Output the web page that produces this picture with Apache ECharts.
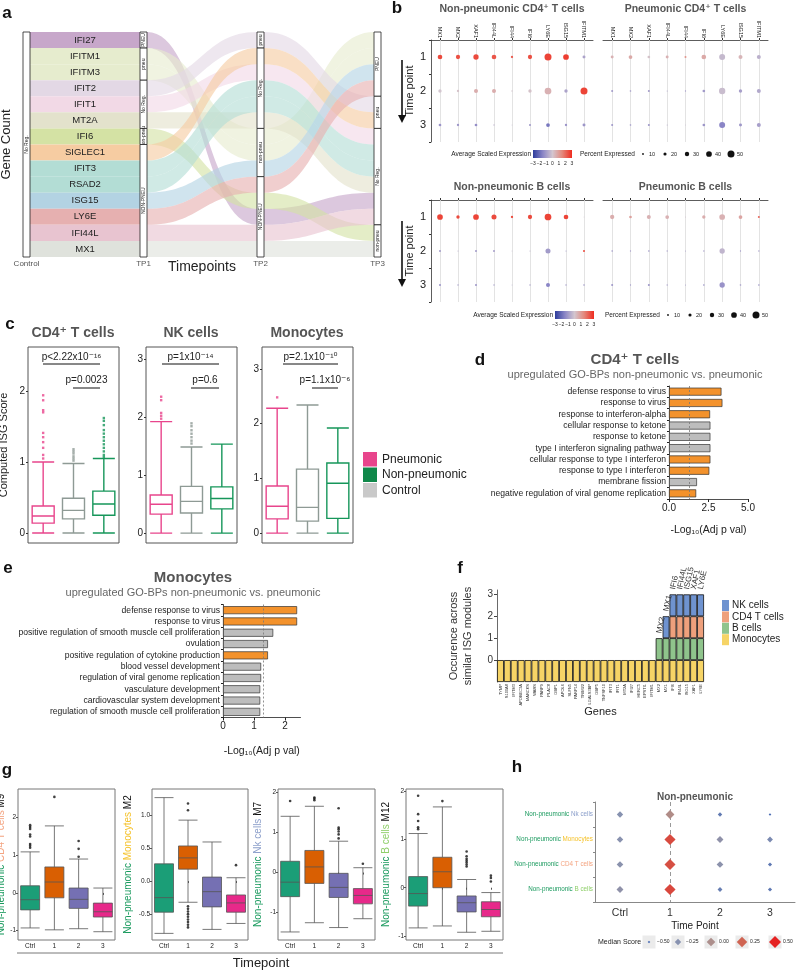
<!DOCTYPE html>
<html>
<head>
<meta charset="utf-8">
<script src="https://cdn.jsdelivr.net/npm/echarts@6.0.0/dist/echarts.min.js"></script>
<style>
  html, body { margin: 0; padding: 0; background: #fff; }
  #main { width: 800px; height: 970px; }
</style>
</head>
<body>
<div id="main"></div>
<script>
// ---------- data: panel a (alluvial) ----------
const aStages = ['Control', 'TP1', 'TP2', 'TP3'];
const aGenes = ['IFI27', 'IFITM1', 'IFITM3', 'IFIT2', 'IFIT1', 'MT2A', 'IFI6', 'SIGLEC1', 'IFIT3', 'RSAD2', 'ISG15', 'LY6E', 'IFI44L', 'MX1'];
const aOrderTP2 = ['IFIT2', 'SIGLEC1', 'IFIT1', 'IFIT3', 'RSAD2', 'MT2A', 'IFITM1', 'IFITM3', 'ISG15', 'LY6E', 'IFI6', 'IFI27', 'IFI44L', 'MX1'];
const aOrderTP3 = ['IFITM1', 'IFITM3', 'ISG15', 'LY6E', 'IFIT2', 'SIGLEC1', 'IFIT1', 'IFIT3', 'RSAD2', 'MT2A', 'IFI27', 'IFI44L', 'IFI6', 'MX1'];
const aNodeLabels = [['No Reg.'], ['PNEU', 'pneu', 'No Reg.', 'non-pneu', 'NON-PNEU'], ['pneu', 'No Reg.', 'non-pneu', 'NON-PNEU'], ['PNEU', 'pneu', 'No Reg.', 'non-pneu']];
const aNodeCounts = [[14], [1, 2, 3, 1, 7], [1, 5, 3, 5], [4, 2, 6, 2]];

// ---------- data: panel b (dot plots) ----------
const bGenes = ['MX1', 'MX2', 'XAF1', 'IFI44L', 'IFI44', 'IFI6', 'LY6E', 'ISG15', 'IFITM1'];
const bTimes = ['1', '2', '3'];
const bExpNonPneuCD4 = [[2.5, 2.4, 2.5, 2.3, 2.2, 2.4, 2.6, 2.7, -0.8], [0, 0.1, 0.6, 0.6, 0, 0.1, 0.5, -0.8, 2.6], [-1.2, -1.1, -1.3, -0.4, -0.5, -1.1, -1.8, -1.2, -1.1]];
const bPctNonPneuCD4 = [[32, 29, 37, 32, 14, 29, 50, 40, 19], [22, 14, 27, 27, 6, 22, 48, 22, 50], [17, 14, 17, 6, 2, 12, 25, 14, 19]];
const bExpPneuCD4 = [[0.5, 0.7, 0.1, 0.5, 1.2, 0.7, -0.3, 0.4, -0.5], [-1, -1, -1, -0.8, -0.9, -1, -0.2, -0.9, -0.7], [-1.1, -1.1, -1.1, -0.6, -0.4, -1.1, -1.5, -1.1, -0.9]];
const bPctPneuCD4 = [[19, 25, 17, 19, 12, 32, 42, 27, 27], [12, 9, 12, 4, 6, 17, 45, 22, 27], [12, 9, 12, 4, 2, 17, 42, 19, 27]];
const bExpNonPneuB = [[2.6, 2.5, 2.6, 2.5, 2.5, 2.5, 2.6, 2.6, 0], [-1, -0.6, -1, -0.9, -0.5, -0.5, -1, -1, 2.5], [-1.2, -1, -1.1, -1, -0.8, -1, -1.5, -1.1, -1]];
const bPctNonPneuB = [[40, 22, 40, 35, 14, 29, 48, 32, 2], [12, 4, 12, 12, 2, 4, 35, 4, 12], [12, 6, 12, 6, 2, 6, 27, 6, 9]];
const bExpPneuB = [[0.6, 0.9, 0.5, 0.5, 0, 0.6, 0.5, 0.8, 2], [-1, -0.9, -1, -0.9, -0.8, -1, -0.4, -1, -1], [-1.1, -1, -1.1, -0.9, -0.9, -1.1, -1.2, -1, -1]];
const bPctPneuB = [[29, 17, 27, 25, 4, 22, 40, 25, 12], [9, 6, 9, 6, 4, 6, 37, 6, 6], [12, 6, 12, 6, 4, 9, 37, 9, 9]];
const bScaleTicks = [-3, -2, -1, 0, 1, 2, 3];
const bPctTicks = [10, 20, 30, 40, 50];

// ---------- data: panel c (ISG score boxplots) ----------
const cGroups = ['Pneumonic', 'Control', 'Non-pneumonic'];
const cCD4Box = [[0, 0.14, 0.24, 0.38, 1.0], [0, 0.2, 0.32, 0.49, 0.98], [0, 0.25, 0.41, 0.59, 1.05]];
const cCD4Out = [[1.94, 1.87, 1.73, 1.7, 1.41, 1.35, 1.28, 1.2, 1.1, 1.05], [1.18, 1.15, 1.12, 1.08, 1.05, 1.02], [1.62, 1.58, 1.52, 1.45, 1.4, 1.35, 1.3, 1.25, 1.2, 1.15, 1.1, 1.07]];
const cNKBox = [[0, 0.33, 0.5, 0.66, 1.93], [0, 0.35, 0.55, 0.81, 1.49], [0, 0.42, 0.6, 0.8, 1.54]];
const cNKOut = [[2.36, 2.3, 2.08, 2.03, 1.98], [1.9, 1.85, 1.78, 1.72, 1.66, 1.6, 1.55], []];
const cMonoBox = [[0, 0.26, 0.49, 0.86, 2.28], [0, 0.22, 0.47, 1.17, 2.34], [0, 0.27, 0.91, 1.28, 1.92]];
const cMonoOut = [[2.48], [], []];
const cPvals = [['p<2.22x10⁻¹⁶', 'p=0.0023'], ['p=1x10⁻¹⁴', 'p=0.6'], ['p=2.1x10⁻¹⁰', 'p=1.1x10⁻⁶']];

// ---------- data: panels d, e (GO enrichment) ----------
const dTerms = ['defense response to virus', 'response to virus', 'response to interferon-alpha', 'cellular response to ketone', 'response to ketone', 'type I interferon signaling pathway', 'cellular response to type I interferon', 'response to type I interferon', 'membrane fission', 'negative regulation of viral genome replication'];
const dValues = [3.32, 3.38, 2.6, 2.62, 2.62, 2.62, 2.62, 2.55, 1.77, 1.72];
const dAntiviral = [1, 1, 1, 0, 0, 0, 1, 1, 0, 1];
const eTerms = ['defense response to virus', 'response to virus', 'positive regulation of smooth muscle cell proliferation', 'ovulation', 'positive regulation of cytokine production', 'blood vessel development', 'regulation of viral genome replication', 'vasculature development', 'cardiovascular system development', 'regulation of smooth muscle cell proliferation'];
const eValues = [2.39, 2.39, 1.62, 1.45, 1.45, 1.23, 1.23, 1.2, 1.2, 1.2];
const eAntiviral = [1, 1, 0, 0, 1, 0, 0, 0, 0, 0];
const sigCutoff = 1.3;

// ---------- data: panel f (module occurrence) ----------
const fGenes = ['TYMP', 'S100A8', 'IFITM3', 'APOBEC3A', 'MARCKS', 'WARS', 'PARP9', 'PLAC8', 'GBP1', 'APOL6', 'SLFN5', 'PARP14', 'TRIM22', 'LGALS3BP', 'GBP5', 'TNFSF10', 'IFIT3', 'IFIT1', 'MT2A', 'IFI27', 'HERC5', 'EPSTI1', 'IFITM1', 'MX2', 'MX1', 'IFI6', 'IFI44L', 'ISG15', 'XAF1', 'LY6E'];
const fMono = [-1, -1, -1, -1, -1, -1, -1, -1, -1, -1, -1, -1, -1, -1, -1, -1, -1, -1, -1, -1, -1, -1, -1, -1, -1, -1, -1, -1, -1, -1];
const fB = ['-', '-', '-', '-', '-', '-', '-', '-', '-', '-', '-', '-', '-', '-', '-', '-', '-', '-', '-', '-', '-', '-', '-', 1, 1, 1, 1, 1, 1, 1];
const fCD4 = ['-', '-', '-', '-', '-', '-', '-', '-', '-', '-', '-', '-', '-', '-', '-', '-', '-', '-', '-', '-', '-', '-', '-', '-', '-', 1, 1, 1, 1, 1];
const fNK = ['-', '-', '-', '-', '-', '-', '-', '-', '-', '-', '-', '-', '-', '-', '-', '-', '-', '-', '-', '-', '-', '-', '-', '-', 1, 1, 1, 1, 1, 1];
const fTicks = [0, 1, 2, 3];

// ---------- data: panel g (module scores over time) ----------
const gTimes = ['Ctrl', '1', '2', '3'];
const gCD4Box = [[-0.93, -0.45, -0.18, 0.19, 1.09], [-0.98, -0.13, 0.29, 0.69, 1.78], [-0.95, -0.41, -0.17, 0.13, 0.9], [-1.03, -0.64, -0.5, -0.27, 0.13]];
const gCD4Out = [[1.2, 1.25, 1.3, 1.5, 1.55, 1.7, 1.75, 1.8], [2.55], [0.96, 1.17, 1.38], []];
const gMonoBox = [[-0.79, -0.47, -0.25, 0.26, 1.26], [-0.32, 0.18, 0.35, 0.53, 0.92], [-0.73, -0.39, -0.16, 0.06, 0.59], [-0.64, -0.47, -0.33, -0.21, 0.05]];
const gMonoOut = [[], [1.07, 1.17, -0.38, -0.42, -0.46, -0.5, -0.54, -0.58, -0.62, -0.66, -0.7], [], [0.24]];
const gNKBox = [[-1.48, -0.6, -0.24, 0.28, 1.4], [-1.25, -0.27, 0.14, 0.55, 1.65], [-1.37, -0.62, -0.37, -0.02, 0.78], [-1.15, -0.78, -0.57, -0.4, 0.12]];
const gNKOut = [[1.78], [1.8, 1.84, 1.87], [0.85, 0.95, 1.02, 1.08, 1.12, 1.6], [0.22]];
const gBBox = [[-0.83, -0.38, -0.12, 0.23, 1.12], [-0.79, 0, 0.33, 0.63, 1.67], [-0.92, -0.5, -0.31, -0.17, 0.17], [-0.9, -0.6, -0.45, -0.29, -0.1]];
const gBOut = [[1.21, 1.25, 1.38, 1.52, 1.9], [1.79], [0.44, 0.48, 0.52, 0.56, 0.6, 0.65, 0.75], [0.13, 0.2, 0.25]];

// ---------- data: panel h (median scores) ----------
const hTimes = ['Ctrl', '1', '2', '3'];
const hCells = ['Nk cells', 'Monocytes', 'CD4 T cells', 'B cells'];
const hScores = [[-0.25, 0.02, -0.4, -0.5], [-0.24, 0.35, -0.2, -0.3], [-0.23, 0.33, -0.22, -0.42], [-0.2, 0.36, -0.38, -0.42]];
const hLegendValues = [-0.5, -0.25, 0, 0.25, 0.5];

// ---------- styles ----------
const FONT = '"Liberation Sans", Arial, "DejaVu Sans", sans-serif';
const geneColors = {
  IFI27: '#c7a7ca', IFITM1: '#e6ecce', IFITM3: '#e6ecce', IFIT2: '#e3d8e5', IFIT1: '#f2d9e6',
  MT2A: '#e3e2cc', IFI6: '#d4e2a4', SIGLEC1: '#f6cca2', IFIT3: '#b3ddd5', RSAD2: '#b3ddd5',
  ISG15: '#b3d3e3', LY6E: '#e6b0b0', IFI44L: '#e8c4d0', MX1: '#dfe2dc'
};
const bPalette = ['#2e3d9c', '#8a85c6', '#d3c6cf', '#e4877a', '#ef2b1f'];
const cColors = ['#e8458c', '#8e9a95', '#16965a'];
const cFill = ['#e8458c', '#10884a', '#c9c9c9'];
const ORANGE = '#f3922c', GREYBAR = '#bdbdbd';
const gColors = ['#1b9e77', '#d95f02', '#7570b3', '#e7298a'];
const hPalette = ['#4a6cb3', '#8792b0', '#ad8f8c', '#cf6452', '#e52222'];
const cellColors = { 'Nk cells': '#8da0cb', 'Monocytes': '#f5c22b', 'CD4 T cells': '#f4a582', 'B cells': '#8fcf6a' };
const NONPNEU = '#1a9a5e';

const bColor = v => echarts.color.lerp((Math.max(-3, Math.min(3, v)) + 3) / 6, bPalette);
const bSize = p => 0.5 + p * 0.13;
const hColor = v => echarts.color.lerp(Math.max(0, Math.min(1, v + 0.5)), hPalette);
const hSize = v => 12 * Math.sqrt(Math.max(v + 0.55, 0.01) / 1.05);

// ---------- builders ----------
const grids = [], xAxes = [], yAxes = [], series = [], graphics = [];
function addGrid(rect, xAxis, yAxis) {
  const gi = grids.length;
  grids.push(Object.assign({ outerBoundsMode: 'none', containLabel: false }, rect));
  xAxes.push(Object.assign({ gridIndex: gi }, xAxis));
  yAxes.push(Object.assign({ gridIndex: gi }, yAxis));
  return gi;
}
function addSeries(s) {
  series.push(Object.assign({ animation: false }, s));
  return series.length - 1;
}
function T(x, y, text, size, o) {
  o = o || {};
  const align = o.align || 'center', va = o.va || 'middle';
  return {
    type: 'text', x: x, y: y, rotation: o.rot || 0, silent: true, z: 100,
    style: {
      text: text, fontSize: size, fontFamily: FONT, fontWeight: o.weight || 'normal', fill: o.color || '#222',
      align: align, verticalAlign: va, textAlign: align, textVerticalAlign: va
    }
  };
}
function L(x1, y1, x2, y2, color, w) {
  return { type: 'line', silent: true, z: 100, shape: { x1: x1, y1: y1, x2: x2, y2: y2 }, style: { stroke: color || '#222', lineWidth: w || 1 } };
}
function R(x, y, w, h, fill) {
  return { type: 'rect', silent: true, z: 99, shape: { x: x, y: y, width: w, height: h }, style: { fill: fill } };
}
function diamond(cx, cy, s, color) {
  return { type: 'polygon', silent: true, z: 101, shape: { points: [[cx, cy - s / 2], [cx + s / 2, cy], [cx, cy + s / 2], [cx - s / 2, cy]] }, style: { fill: color } };
}
const hide = { axisLine: { show: false }, axisTick: { show: false }, axisLabel: { show: false }, splitLine: { show: false } };

// ---------- panel a ----------
const aOrder = [aGenes, aGenes, aOrderTP2, aOrderTP3];
const gA = addGrid({ left: 26.5, top: 32, width: 351, height: 225 },
  {
    type: 'value', min: 0, max: 3, interval: 1, splitLine: { show: false }, axisLine: { show: false },
    axisTick: { show: true, length: 3, lineStyle: { color: '#555' } },
    axisLabel: { formatter: v => aStages[v] || '', fontSize: 8, color: '#555', margin: 3 },
    name: 'Timepoints', nameLocation: 'middle', nameGap: 3, nameMoveOverlap: false, nameTextStyle: { fontSize: 14, color: '#222' }
  },
  Object.assign({ type: 'value', min: 0, max: 14, inverse: true, name: 'Gene Count', nameLocation: 'middle', nameGap: 14, nameRotate: 90, nameTextStyle: { fontSize: 13, color: '#222' } }, hide)
);
function renderFlow(params, api) {
  const gene = aGenes[api.value(1)];
  const half = 3.5;
  const children = [];
  for (let s = 0; s < aStages.length - 1; s++) {
    const r0 = aOrder[s].indexOf(gene), r1 = aOrder[s + 1].indexOf(gene);
    const a0 = api.coord([s, r0]), a1 = api.coord([s, r0 + 1]);
    const b0 = api.coord([s + 1, r1]), b1 = api.coord([s + 1, r1 + 1]);
    const x0 = a0[0] + half, x1 = b0[0] - half, xm = (x0 + x1) / 2;
    const d = 'M' + x0 + ',' + a0[1] + ' C' + xm + ',' + a0[1] + ' ' + xm + ',' + b0[1] + ' ' + x1 + ',' + b0[1] +
      ' L' + x1 + ',' + b1[1] + ' C' + xm + ',' + b1[1] + ' ' + xm + ',' + a1[1] + ' ' + x0 + ',' + a1[1] + ' Z';
    children.push({ type: 'path', shape: { pathData: d }, style: { fill: geneColors[gene], opacity: s === 0 ? 1 : 0.62 } });
  }
  const lp = api.coord([0.5, aOrder[0].indexOf(gene) + 0.5]);
  children.push({ type: 'text', x: lp[0], y: lp[1], style: { text: gene, fontSize: 9.5, fontFamily: FONT, fill: '#222', align: 'center', verticalAlign: 'middle' } });
  return { type: 'group', children: children };
}
addSeries({ type: 'custom', xAxisIndex: gA, yAxisIndex: gA, silent: true, z: 2, renderItem: renderFlow, data: aGenes.map((g, i) => [0, i]) });
const aNodeData = [];
aNodeCounts.forEach((counts, s) => {
  let acc = 0;
  counts.forEach((c, k) => { aNodeData.push([s, acc, acc + c, k]); acc += c; });
});
function renderNode(params, api) {
  const s = api.value(0), a = api.value(1), b = api.value(2), k = api.value(3);
  const p0 = api.coord([s, a]), p1 = api.coord([s, b]);
  return {
    type: 'group', children: [
      { type: 'rect', shape: { x: p0[0] - 3.5, y: p0[1], width: 7, height: p1[1] - p0[1] }, style: { fill: '#fff', stroke: '#222', lineWidth: 0.8 } },
      { type: 'text', x: p0[0], y: (p0[1] + p1[1]) / 2, rotation: Math.PI / 2, style: { text: aNodeLabels[s][k], fontSize: 5, fontFamily: FONT, fill: '#222', align: 'center', verticalAlign: 'middle' } }
    ]
  };
}
addSeries({ type: 'custom', xAxisIndex: gA, yAxisIndex: gA, silent: true, z: 3, renderItem: renderNode, data: aNodeData });

// ---------- panel b ----------
const bLayout = [
  { title: 'Non-pneumonic CD4⁺ T cells', exp: bExpNonPneuCD4, pct: bPctNonPneuCD4, left: 431, top: 40, width: 162, first: true },
  { title: 'Pneumonic CD4⁺ T cells', exp: bExpPneuCD4, pct: bPctPneuCD4, left: 603, top: 40, width: 165, first: false },
  { title: 'Non-pneumonic B cells', exp: bExpNonPneuB, pct: bPctNonPneuB, left: 431, top: 200, width: 162, first: true },
  { title: 'Pneumonic B cells', exp: bExpPneuB, pct: bPctPneuB, left: 603, top: 200, width: 165, first: false }
];
bLayout.forEach(p => {
  const upper = p.top === 40;
  const gi = addGrid({ left: p.left, top: p.top, width: p.width, height: 102 },
    {
      type: 'category', data: bGenes, position: 'top',
      axisLine: { show: true, lineStyle: { color: '#333', width: 0.8 } },
      axisTick: { show: true, alignWithLabel: true, length: 2, lineStyle: { color: '#333' } },
      axisLabel: { show: upper, rotate: 90, fontSize: 5.5, margin: 2, color: '#222', interval: 0 }, splitLine: { show: false }
    },
    {
      type: 'category', data: bTimes, inverse: true,
      axisLine: { show: p.first, lineStyle: { color: '#333', width: 0.8 } },
      axisTick: { show: p.first, length: 2, lineStyle: { color: '#333' } },
      axisLabel: { show: p.first, fontSize: 11, color: '#222', margin: 5 }, splitLine: { show: false },
      name: p.first ? 'Time point' : '', nameLocation: 'middle', nameRotate: 90, nameGap: 16, nameTextStyle: { fontSize: 11, color: '#222' }
    });
  const data = [];
  p.exp.forEach((row, r) => row.forEach((v, g) => data.push([g, r, v, p.pct[r][g]])));
  addSeries({
    type: 'scatter', xAxisIndex: gi, yAxisIndex: gi, silent: true, z: 3, data: data,
    symbolSize: v => bSize(v[3]),
    itemStyle: { color: prm => bColor(prm.value[2]), opacity: 1 },
    markLine: {
      silent: true, symbol: ['none', 'none'], z: 1, label: { show: false },
      lineStyle: { color: '#dcdcdc', width: 0.8, type: 'solid' },
      data: bGenes.map(g => ({ xAxis: g }))
    }
  });
  graphics.push(T(p.left + p.width / 2, upper ? 9 : 187, p.title, 10.5, { weight: 'bold', color: '#555' }));
});
// time arrows
[[60, 116], [221, 280]].forEach(([y0, y1]) => {
  graphics.push(L(402, y0, 402, y1, '#111', 1.6));
  graphics.push({ type: 'polygon', silent: true, z: 100, shape: { points: [[398, y1 - 1], [406, y1 - 1], [402, y1 + 7]] }, style: { fill: '#111' } });
});
// b legends
[[154, 0, 0], [315, 22, 25]].forEach(([y, dx, dp]) => {
  graphics.push(T(531 + dx, y, 'Average Scaled Expression', 6.5, { align: 'right' }));
  graphics.push({
    type: 'rect', silent: true, z: 99, shape: { x: 533 + dx, y: y - 4, width: 39, height: 8 },
    style: { fill: { type: 'linear', x: 0, y: 0, x2: 1, y2: 0, colorStops: bPalette.map((c, i) => ({ offset: i / (bPalette.length - 1), color: c })) } }
  });
  bScaleTicks.forEach(t => graphics.push(T(533 + dx + (t + 3) / 6 * 39, y + 10, String(t).replace('-', '−'), 5)));
  graphics.push(T(580 + dp, y, 'Percent Expressed', 6.5, { align: 'left' }));
  bPctTicks.forEach((t, i) => {
    const cx = 643 + dp + i * 22;
    graphics.push({ type: 'circle', silent: true, z: 100, shape: { cx: cx, cy: y, r: bSize(t) / 2 }, style: { fill: '#111' } });
    graphics.push(T(cx + 6, y, String(t), 5.5, { align: 'left' }));
  });
});

// ---------- panel c ----------
const cLayout = [
  { left: 28, title: 'CD4⁺ T cells', min: -0.14, max: 2.62, ticks: [0, 1, 2], box: cCD4Box, out: cCD4Out, p: cPvals[0], l1: [43, 100], l2: [73, 100] },
  { left: 146, title: 'NK cells', min: -0.17, max: 3.22, ticks: [0, 1, 2, 3], box: cNKBox, out: cNKOut, p: cPvals[1], l1: [162, 219], l2: [191, 219] },
  { left: 262, title: 'Monocytes', min: -0.18, max: 3.4, ticks: [0, 1, 2, 3], box: cMonoBox, out: cMonoOut, p: cPvals[2], l1: [283, 338], l2: [312, 338] }
];
cLayout.forEach((c, ci) => {
  const gi = addGrid({ left: c.left, top: 347, width: 91, height: 196, show: true, borderColor: '#555', borderWidth: 1, backgroundColor: 'transparent' },
    Object.assign({ type: 'category', data: cGroups }, hide),
    {
      type: 'value', min: c.min, max: c.max, splitLine: { show: false }, axisLine: { show: false },
      axisTick: { show: true, length: 2, customValues: c.ticks, lineStyle: { color: '#333' } },
      axisLabel: { customValues: c.ticks, fontSize: 10, color: '#222', margin: 3 },
      name: ci === 0 ? 'Computed ISG Score' : '', nameLocation: 'middle', nameRotate: 90, nameGap: 19, nameTextStyle: { fontSize: 11, color: '#222' }
    });
  addSeries({
    type: 'boxplot', xAxisIndex: gi, yAxisIndex: gi, silent: true, boxWidth: [22, 22],
    data: c.box.map((b, i) => ({ value: b, itemStyle: { color: '#fff', borderColor: cColors[i], borderWidth: 1.4 } }))
  });
  const outs = [];
  c.out.forEach((arr, i) => arr.forEach(v => outs.push({ value: [i, v], itemStyle: { color: cColors[i] } })));
  addSeries({ type: 'scatter', xAxisIndex: gi, yAxisIndex: gi, silent: true, symbol: 'rect', symbolSize: 2.4, data: outs });
  graphics.push(T(c.left + 45, 333, c.title, 14, { weight: 'bold', color: '#555' }));
  graphics.push(T((c.l1[0] + c.l1[1]) / 2, 357, c.p[0], 10));
  graphics.push(L(c.l1[0], 364, c.l1[1], 364, '#111', 1));
  graphics.push(T((c.l2[0] + c.l2[1]) / 2, 380.5, c.p[1], 10));
  graphics.push(L(c.l2[0], 388, c.l2[1], 388, '#111', 1));
});
['Pneumonic', 'Non-pneumonic', 'Control'].forEach((name, i) => {
  graphics.push(R(363, 452 + i * 15.5, 14, 14.5, cFill[i]));
  graphics.push(T(382, 459.5 + i * 15.5, name, 12, { align: 'left' }));
});

// ---------- panels d and e ----------
function goBars(left, top, xmax, pxPerUnit, interval, fmt, terms, values, flags, nameGap) {
  const gi = addGrid({ left: left, top: top, width: xmax * pxPerUnit, height: 113 },
    {
      type: 'value', min: 0, max: xmax, interval: interval, splitLine: { show: false },
      axisLine: { show: true, lineStyle: { color: '#222', width: 0.8 } }, axisTick: { show: true, length: 3, lineStyle: { color: '#222' } },
      axisLabel: { formatter: fmt, fontSize: 10, color: '#222', margin: 4, showMaxLabel: xmax % interval === 0 },
      name: '-Log₁₀(Adj p val)', nameLocation: 'middle', nameGap: nameGap, nameTextStyle: { fontSize: 10.5, color: '#222' }
    },
    {
      type: 'category', data: terms, inverse: true,
      axisLine: { show: true, lineStyle: { color: '#222', width: 0.8 } }, axisTick: { show: true, length: 2, lineStyle: { color: '#222' } },
      axisLabel: { fontSize: 8.6, color: '#222', margin: 3, interval: 0 }, splitLine: { show: false }
    });
  addSeries({
    type: 'bar', xAxisIndex: gi, yAxisIndex: gi, silent: true, barWidth: 8,
    itemStyle: { borderColor: '#333', borderWidth: 0.7 },
    data: values.map((v, i) => ({ value: v, itemStyle: { color: flags[i] ? ORANGE : GREYBAR } })),
    markLine: { silent: true, symbol: ['none', 'none'], label: { show: false }, lineStyle: { type: [2, 2], color: '#777', width: 0.8 }, data: [{ xAxis: sigCutoff }] }
  });
}
goBars(669, 386, 5, 15.8, 2.5, v => v.toFixed(1), dTerms, dValues, dAntiviral, 26);
graphics.push(T(635, 360, 'CD4⁺ T cells', 15, { weight: 'bold', color: '#555' }));
graphics.push(T(635, 374.5, 'upregulated GO-BPs non-pneumonic vs. pneumonic', 11, { color: '#666' }));
goBars(223, 604.5, 2.5, 31, 1, v => String(v), eTerms, eValues, eAntiviral, 28);
graphics.push(T(193, 578, 'Monocytes', 15, { weight: 'bold', color: '#555' }));
graphics.push(T(193, 592.5, 'upregulated GO-BPs non-pneumonic vs. pneumonic', 11, { color: '#666' }));

// ---------- panel f ----------
const gF = addGrid({ left: 497, top: 590, width: 207, height: 92 },
  {
    type: 'category', data: fGenes, axisLine: { show: false }, axisTick: { show: false }, splitLine: { show: false },
    axisLabel: { rotate: 90, fontSize: 4, margin: 2, color: '#333', interval: 0 },
    name: 'Genes', nameLocation: 'middle', nameGap: 24, nameMoveOverlap: false, nameTextStyle: { fontSize: 11, color: '#222' }
  },
  {
    type: 'value', min: -1, max: 3.2, splitLine: { show: false },
    axisLine: { show: true, lineStyle: { color: '#444', width: 0.8 } },
    axisTick: { show: true, length: 3, customValues: fTicks, lineStyle: { color: '#444' } },
    axisLabel: { customValues: fTicks, fontSize: 10, color: '#333', margin: 4 },
    name: 'Occurence across\nsimilar ISG modules', nameLocation: 'middle', nameRotate: 90, nameGap: 22,
    nameTextStyle: { fontSize: 11, color: '#333', lineHeight: 14 }
  });
const fTopLabel = i => ({ show: true, position: 'top', rotate: 78, align: 'left', verticalAlign: 'middle', distance: 5, formatter: fGenes[i], fontSize: 8, color: '#333' });
const fItems = (arr, labelled) => arr.map((v, i) => (v === '-' ? '-' : (labelled(i) ? { value: v, label: fTopLabel(i) } : v)));
const fBarBase = { type: 'bar', xAxisIndex: gF, yAxisIndex: gF, stack: 'occ', silent: true, barCategoryGap: '0%' };
addSeries(Object.assign({}, fBarBase, { name: 'Monocytes', data: fMono, itemStyle: { color: '#f6d466', borderColor: '#111', borderWidth: 0.8 } }));
addSeries(Object.assign({}, fBarBase, { name: 'B cells', data: fItems(fB, i => fGenes[i] === 'MX2'), itemStyle: { color: '#8fc48c', borderColor: '#111', borderWidth: 0.8 } }));
addSeries(Object.assign({}, fBarBase, { name: 'CD4 T cells', data: fCD4, itemStyle: { color: '#eea07c', borderColor: '#111', borderWidth: 0.8 } }));
addSeries(Object.assign({}, fBarBase, { name: 'NK cells', data: fItems(fNK, i => fNK[i] !== '-'), itemStyle: { color: '#6f93d0', borderColor: '#111', borderWidth: 0.8 } }));

// ---------- panel g ----------
const gLayout = [
  { left: 18, width: 97, min: -1.25, max: 2.76, ticks: [-1, 0, 1, 2], fmt: v => String(v), box: gCD4Box, out: gCD4Out, cell: 'CD4 T cells', mod: 'M9', gap: 12 },
  { left: 152, width: 96, min: -0.89, max: 1.39, ticks: [-0.5, 0, 0.5, 1], fmt: v => v.toFixed(1), box: gMonoBox, out: gMonoOut, cell: 'Monocytes', mod: 'M2', gap: 19 },
  { left: 278, width: 97, min: -1.68, max: 2.08, ticks: [-1, 0, 1, 2], fmt: v => String(v), box: gNKBox, out: gNKOut, cell: 'Nk cells', mod: 'M7', gap: 15 },
  { left: 406, width: 97, min: -1.08, max: 2.04, ticks: [-1, 0, 1, 2], fmt: v => String(v), box: gBBox, out: gBOut, cell: 'B cells', mod: 'M12', gap: 15 }
];
gLayout.forEach(p => {
  const gi = addGrid({ left: p.left, top: 789, width: p.width, height: 151, show: true, borderColor: '#777', borderWidth: 1, backgroundColor: 'transparent' },
    {
      type: 'category', data: gTimes, axisLine: { show: false }, axisTick: { show: true, alignWithLabel: true, length: 2, lineStyle: { color: '#555' } },
      axisLabel: { fontSize: 6.5, color: '#222', margin: 3 }, splitLine: { show: false }
    },
    {
      type: 'value', min: p.min, max: p.max, splitLine: { show: false }, axisLine: { show: false },
      axisTick: { show: true, length: 2, customValues: p.ticks, lineStyle: { color: '#555' } },
      axisLabel: { customValues: p.ticks, formatter: p.fmt, fontSize: 6.5, color: '#222', margin: 2 },
      name: '{a|Non-pneumonic} {b|' + p.cell + '} {c|' + p.mod + '}', nameLocation: 'middle', nameRotate: 90, nameGap: p.gap,
      nameTextStyle: { fontSize: 10, rich: { a: { color: NONPNEU, fontSize: 10 }, b: { color: cellColors[p.cell], fontSize: 10 }, c: { color: '#111', fontSize: 10 } } }
    });
  addSeries({
    type: 'boxplot', xAxisIndex: gi, yAxisIndex: gi, silent: true, boxWidth: [19, 19],
    data: p.box.map((b, i) => ({ value: b, itemStyle: { color: gColors[i], borderColor: '#555', borderWidth: 0.8 } }))
  });
  const outs = [];
  p.out.forEach((arr, i) => arr.forEach(v => outs.push([i, v])));
  addSeries({ type: 'scatter', xAxisIndex: gi, yAxisIndex: gi, silent: true, symbolSize: 2.6, itemStyle: { color: '#111' }, data: outs });
});
graphics.push(L(17, 953, 503, 953, '#555', 0.8));
graphics.push(T(261, 963, 'Timepoint', 13));

// ---------- panel h ----------
const gH = addGrid({ left: 595, top: 802, width: 200, height: 100 },
  {
    type: 'category', data: hTimes, axisLine: { show: true, lineStyle: { color: '#888', width: 1 } }, axisTick: { show: false },
    axisLabel: { fontSize: 10.5, color: '#333', margin: 6 }, splitLine: { show: false },
    name: 'Time Point', nameLocation: 'middle', nameGap: 19, nameTextStyle: { fontSize: 10, color: '#222' }
  },
  {
    type: 'category', data: hCells, inverse: true, axisLine: { show: true, lineStyle: { color: '#888', width: 1 } },
    axisTick: { show: true, length: 2, lineStyle: { color: '#888' } }, splitLine: { show: false },
    axisLabel: {
      fontSize: 6.3, margin: 2, formatter: (v, i) => '{g|Non-pneumonic} {c' + i + '|' + v + '}',
      rich: {
        g: { color: NONPNEU, fontSize: 6.3 },
        c0: { color: cellColors['Nk cells'], fontSize: 6.3 }, c1: { color: cellColors['Monocytes'], fontSize: 6.3 },
        c2: { color: cellColors['CD4 T cells'], fontSize: 6.3 }, c3: { color: cellColors['B cells'], fontSize: 6.3 }
      }
    }
  });
const hData = [];
hScores.forEach((row, c) => row.forEach((v, t) => hData.push([t, c, v])));
addSeries({
  type: 'scatter', xAxisIndex: gH, yAxisIndex: gH, silent: true, symbol: 'diamond', z: 3, data: hData,
  symbolSize: v => hSize(v[2]), itemStyle: { color: prm => hColor(prm.value[2]), opacity: 1 },
  markLine: { silent: true, symbol: ['none', 'none'], z: 1, label: { show: false }, lineStyle: { type: [4, 3], color: '#999', width: 1 }, data: [{ xAxis: '1' }] }
});
graphics.push(T(695, 797, 'Non-pneumonic', 10, { weight: 'bold', color: '#555' }));
graphics.push(T(598, 942, 'Median Score', 7, { align: 'left' }));
const hLegX = [649, 678, 711, 742, 775];
hLegendValues.forEach((v, i) => {
  graphics.push(R(hLegX[i] - 6.5, 935.5, 13, 13, '#ebebeb'));
  graphics.push(diamond(hLegX[i], 942, hSize(v), hColor(v)));
  graphics.push(T(hLegX[i] + 8, 942, v.toFixed(2).replace('-', '−'), 5, { align: 'left' }));
});

// ---------- panel letters ----------
[['a', 7, 13], ['b', 397, 8], ['c', 10, 324], ['d', 480, 360], ['e', 8, 568], ['f', 460, 568], ['g', 7, 770], ['h', 517, 767]].forEach(([s, x, y]) => {
  graphics.push(T(x, y, s, 17, { weight: 'bold', color: '#111' }));
});

const chart = echarts.init(document.getElementById('main'), null, { renderer: 'canvas' });
chart.setOption({
  animation: false,
  backgroundColor: '#fff',
  textStyle: { fontFamily: FONT },
  grid: grids,
  xAxis: xAxes,
  yAxis: yAxes,
  legend: {
    data: ['NK cells', 'CD4 T cells', 'B cells', 'Monocytes'], orient: 'vertical', left: 717, top: 595,
    itemWidth: 7, itemHeight: 11, itemGap: 0.4, selectedMode: false, icon: 'rect',
    itemStyle: { borderWidth: 0 }, textStyle: { fontSize: 10, color: '#222', padding: [0, 0, 0, -2] }
  },
  series: series,
  graphic: { elements: graphics }
});
</script>
</body>
</html>
